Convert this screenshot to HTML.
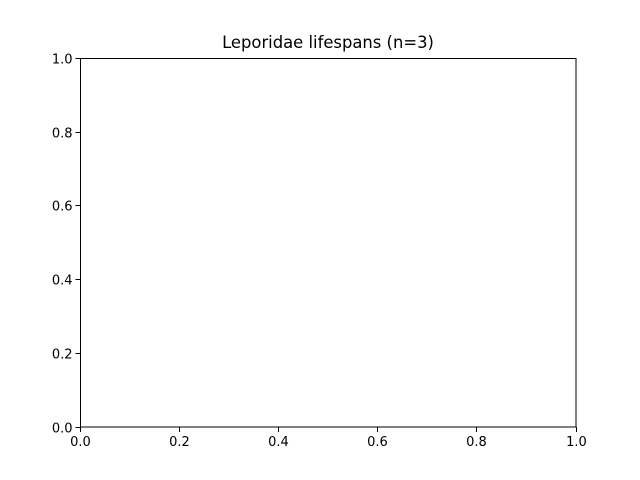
<!DOCTYPE html>
<html><head><meta charset="utf-8"><style>
html,body{margin:0;padding:0;background:#fff;}
svg{display:block;font-family:"DejaVu Sans","Liberation Sans",sans-serif;}
</style></head><body>
<svg id="chart" width="640" height="480" viewBox="0 0 640 480">
<rect x="0" y="0" width="640" height="480" fill="#fff"/>
<text x="328" y="48" text-anchor="middle" font-size="16.4" fill="#000">Leporidae lifespans (n=3)</text>
<g id="xaxis"></g>
<g id="yaxis"></g>
<rect x="80.5" y="58.5" width="495.5" height="368.5" fill="none" stroke="#000" stroke-width="1"/>
</svg>
<script>
const xTicks = [0.0, 0.2, 0.4, 0.6, 0.8, 1.0];
const yTicks = [0.0, 0.2, 0.4, 0.6, 0.8, 1.0];
const L=80.5,R=576,T=58.5,B=427;
const ns="http://www.w3.org/2000/svg";
function sx(v){return L+(R-L)*v;}
function sy(v){return B-(B-T)*v;}
const xa=document.getElementById('xaxis'), ya=document.getElementById('yaxis');
xTicks.forEach(v=>{
  const x=Math.round(sx(v)-0.5)+0.5;
  const l=document.createElementNS(ns,'line');
  l.setAttribute('x1',x);l.setAttribute('x2',x);l.setAttribute('y1',B);l.setAttribute('y2',B+5);
  l.setAttribute('stroke','#000');
  
  
  xa.appendChild(l);
  const t=document.createElementNS(ns,'text');
  t.setAttribute('x',x);t.setAttribute('y',B+19);t.setAttribute('text-anchor','middle');t.setAttribute('font-size','13');
  t.textContent=v.toFixed(1);
  
  
  xa.appendChild(t);
});
yTicks.forEach(v=>{
  const y=Math.round(sy(v)-0.5)+0.5;
  const l=document.createElementNS(ns,'line');
  l.setAttribute('x1',L-5);l.setAttribute('x2',L);l.setAttribute('y1',y);l.setAttribute('y2',y);
  l.setAttribute('stroke','#000');
  
  
  ya.appendChild(l);
  const t=document.createElementNS(ns,'text');
  t.setAttribute('x',L-8);t.setAttribute('y',y+5);t.setAttribute('text-anchor','end');t.setAttribute('font-size','13');
  t.textContent=v.toFixed(1);
  
  
  ya.appendChild(t);
});
</script>
</body></html>
